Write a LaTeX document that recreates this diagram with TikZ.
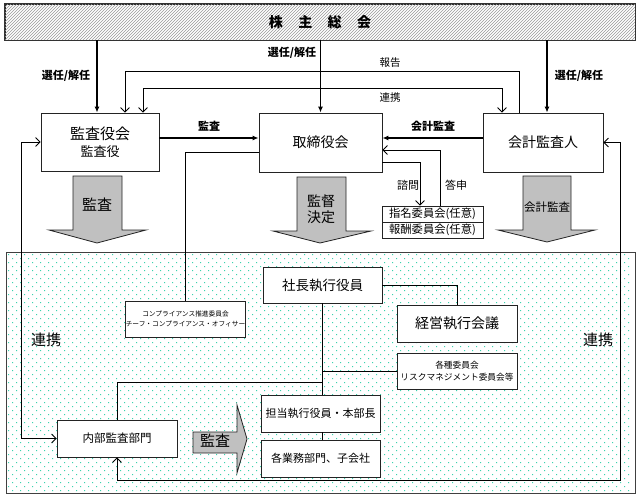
\documentclass[tikz,border=0pt]{standalone}
\usepackage{fontspec}
\setmainfont{Noto Sans CJK JP}
\usetikzlibrary{arrows.meta,patterns}
\definecolor{dotc}{RGB}{60,210,175}
\definecolor{arrgray}{RGB}{192,192,192}
\definecolor{bordc}{RGB}{35,35,35}
\newcommand{\fsz}[1]{\fontsize{#1}{#1}\selectfont}
\begin{document}
\begin{tikzpicture}[x=1pt,y=-1pt,
  box/.style={draw=bordc,fill=white,line width=0.8,inner sep=0pt,align=center},
  conn/.style={draw=black,line width=0.8},
  thk/.style={draw=black,line width=1.8,-{Latex[length=6pt,width=5pt]}},
  opn/.style={conn,-{Straight Barb[length=4.5pt,width=9pt,line width=0.8pt]}},
  opnb/.style={conn,{Straight Barb[length=4.5pt,width=9pt,line width=0.8pt]}-{Straight Barb[length=4.5pt,width=9pt,line width=0.8pt]}},
  bigarr/.style={draw=bordc,fill=arrgray,line width=0.8},
  lbl/.style={inner sep=0pt,align=center}]
\useasboundingbox (0,0) rectangle (640,498);
\fill[white] (0,0) rectangle (640,498);

% dotted region
\draw[draw=black!75,line width=0.8,fill=white] (6,252) rectangle (635,493);
\foreach \r in {0,...,59}{
  \pgfmathsetmacro\yy{254+4*\r}
  \pgfmathsetmacro\xo{mod(\r,2)*4}
  \fill[dotc] \foreach \c in {0,...,77}{ ({8+\xo+8*\c},\yy) rectangle ++(1.1,1.1) };
}

% coordinates
\coordinate (X21) at (21,0);
\coordinate (X97) at (97,0);
\coordinate (X125) at (125,0);
\coordinate (X143) at (143,0);
\coordinate (X185) at (185,0);
\coordinate (X322) at (322,0);
\coordinate (X420) at (420,0);
\coordinate (X440) at (440,0);
\coordinate (X502) at (502,0);
\coordinate (X519) at (519,0);
\coordinate (X547) at (547,0);
\coordinate (X620) at (620,0);
\coordinate (Y138) at (0,138);
\coordinate (Y150) at (0,150);
\coordinate (Y152) at (0,152);
\coordinate (Y162) at (0,162);
\coordinate (Y382) at (0,382);
\coordinate (Y480) at (0,480);

% top box
\node[box,fill=white,minimum width=630pt,minimum height=36pt] (sh) at (320,22) {};
\fill[pattern=north east lines,pattern color=black!40] (sh.south west) rectangle (sh.north east);
\draw[draw=black!80,line width=0.8] (sh.south west) rectangle (sh.north east);
\node[lbl,font=\fsz{14}\bfseries] at (sh.center) {株\hspace{1.1em}主\hspace{1.1em}総\hspace{1.1em}会};

% upper boxes
\node[box,minimum width=118pt,minimum height=58pt] (kansa) at (100,142) {{\fsz{15}監査役会}\\[4pt]{\fsz{13}監査役}};
\node[box,minimum width=123pt,minimum height=59pt,font=\fsz{14}] (tori) at (320.5,142.5) {取締役会};
\node[box,minimum width=120pt,minimum height=59pt,font=\fsz{14}] (kaikei) at (543,142.5) {会計監査人};
\node[box,minimum width=101pt,minimum height=16pt,font=\fsz{11.3}] (shimei) at (432.5,214) {指名委員会(任意)};
\node[box,minimum width=101pt,minimum height=16pt,font=\fsz{11.3}] (houshu) at (432.5,230) {報酬委員会(任意)};

% lower boxes
\node[box,minimum width=119pt,minimum height=36pt,font=\fsz{6.7}] (comp) at (185.5,319) {コンプライアンス推進委員会\\[2.5pt]チーフ・コンプライアンス・オフィサー};
\node[box,minimum width=119pt,minimum height=36pt,font=\fsz{13.5}] (shacho) at (322.5,285) {社長執行役員};
\node[box,minimum width=120pt,minimum height=37pt,font=\fsz{14}] (keiei) at (457,323.5) {経営執行会議};
\node[box,minimum width=120pt,minimum height=36pt,font=\fsz{8.7}] (kakushu) at (457,371) {各種委員会\\[3pt]リスクマネジメント委員会等};
\node[box,minimum width=119pt,minimum height=37pt,font=\fsz{11}] (tanto) at (320.5,413.5) {担当執行役員・本部長};
\node[box,minimum width=119pt,minimum height=37pt,font=\fsz{11}] (kakugyo) at (320.5,458.5) {各業務部門、子会社};
\node[box,minimum width=120pt,minimum height=37pt,font=\fsz{11.5}] (naibu) at (117,438.5) {内部監査部門};

% big arrows
\filldraw[bigarr] (73,176) -- (122,176) -- (122,230) -- (146,230) -- (97,243) -- (49,230) -- (73,230) -- cycle;
\node[lbl,font=\fsz{15}] (a1) at (97,205) {監査};
\filldraw[bigarr] (297,177) -- (346,177) -- (346,231) -- (371,231) -- (320,243) -- (273,231) -- (297,231) -- cycle;
\node[lbl,font=\fsz{14}] (a2) at (321,209) {監督\\[2pt]決定};
\filldraw[bigarr] (523,176) -- (571,176) -- (571,230) -- (595,230) -- (547,242) -- (498,230) -- (523,230) -- cycle;
\node[lbl,font=\fsz{11.5}] (a3) at (547,207) {会計監査};
\filldraw[bigarr] (193,432) -- (237,432) -- (237,405) -- (247,439) -- (237,473) -- (237,453) -- (193,453) -- cycle;
\node[lbl,font=\fsz{15}] (a4) at (215,441) {監査};

% connectors from top
\draw[thk] (sh.south -| X97) -- (kansa.north -| X97);
\draw[thk] (sh.south -| tori.north) -- (tori.north);
\draw[thk] (sh.south -| X547) -- (kaikei.north -| X547);
\draw[opn] (kaikei.north -| X519) -- ++(0,-41) -| (kansa.north -| X125);
\draw[opnb] (kansa.north -| X143) -- ++(0,-24) -| (kaikei.north -| X502);

\node[lbl,font=\fsz{11}\bfseries] at (66,76) {選任/解任};
\node[lbl,font=\fsz{11}\bfseries] at (292,53) {選任/解任};
\node[lbl,font=\fsz{11}\bfseries] at (579,76) {選任/解任};
\node[lbl,font=\fsz{10.5}] at (390,63) {報告};
\node[lbl,font=\fsz{10.5}] at (390,98) {連携};

% horizontal arrows
\draw[thk] (kansa.east |- Y138) -- (tori.west |- Y138);
\draw[thk] (kaikei.west |- Y138) -- (tori.east |- Y138);
\node[lbl,font=\fsz{11}\bfseries] at (209,126) {監査};
\node[lbl,font=\fsz{11}\bfseries] at (433,126) {会計監査};

% committees
\draw[opn] (shimei.north -| X440) |- (tori.east |- Y150);
\draw[opn] (tori.east |- Y162) -| (shimei.north -| X420);
\node[lbl,font=\fsz{11}] at (408,185) {諮問};
\node[lbl,font=\fsz{11}] at (456,185) {答申};

% compliance
\draw[conn] (tori.west |- Y152) -| (comp.north -| X185);

% left and right loops
\draw[opnb] (kansa.west) -- (kansa.west -| X21) -- (naibu.west -| X21) -- (naibu.west);
\draw[opnb] (kaikei.east) -- (kaikei.east -| X620) -- (X620 |- Y480) -- (naibu.south |- Y480) -- (naibu.south);
\node[lbl,font=\fsz{15}] at (46,340) {連携};
\node[lbl,font=\fsz{15}] at (598,340) {連携};

% executive structure
\draw[conn] (shacho.east) -| (keiei.north);
\draw[conn] (shacho.south -| X322) -- (tanto.north -| X322);
\draw[conn] (X322 |- kakushu.west) -- (kakushu.west);
\draw[conn] (naibu.north) |- (X322 |- Y382);
\draw[conn] (tanto.south -| X322) -- (kakugyo.north -| X322);
\end{tikzpicture}
\end{document}
